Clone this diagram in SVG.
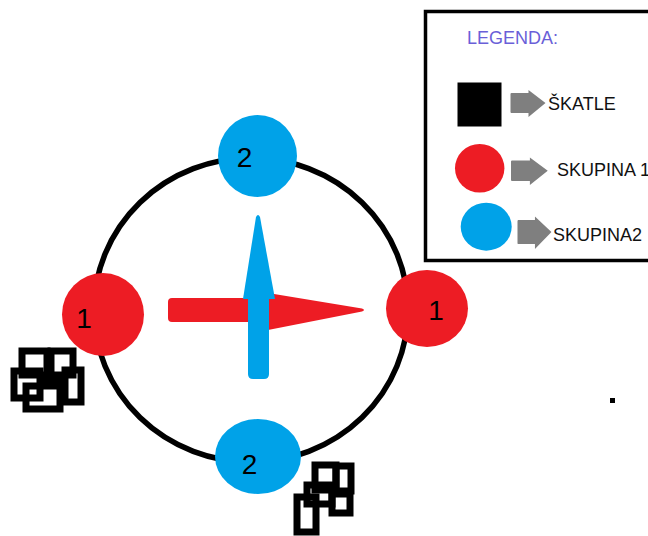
<svg xmlns="http://www.w3.org/2000/svg" width="648" height="536" viewBox="0 0 648 536">
<style>
.red{fill:#ed1c24}
.blue{fill:#00a2e8}
.num{font-family:"Liberation Sans",Arial,sans-serif;font-size:28px;fill:#000;text-anchor:middle}
.lbl{font-family:"Liberation Sans",Arial,sans-serif;font-size:18px;fill:#111}
.box{fill:none;stroke:#000;stroke-width:7}
.garrow{fill:#7f7f7f}
</style>
<defs>
<path id="garr" d="M0,4 Q0,3 1,3 H18 V0 L35,13 L18,27 V23 H1 Q0,23 0,22 Z"/>
</defs>
<rect width="648" height="536" fill="#fff"/>

<g id="ring">
<ellipse cx="251" cy="310" rx="157" ry="152" fill="none" stroke="#000" stroke-width="5.5"/>
</g>

<g id="connectors">
<path class="red" d="M172,298 H272 V322 H172 Q168,322 168,318 V302 Q168,298 172,298 Z"/>
<path class="red" d="M268,293 L362,308.5 Q366,310 362,311.5 L268,330 Z"/>
<path class="blue" d="M248,296 H269 V374 Q269,379 264,379 H253 Q248,379 248,374 Z"/>
<path class="blue" d="M243,299 L256,217 Q258,213 260,217 L275,299 Z"/>
</g>

<g id="node-top">
<ellipse class="blue" cx="257.5" cy="156" rx="39.5" ry="41"/>
<text class="num" x="244.5" y="167">2</text>
</g>
<g id="node-left">
<ellipse class="red" cx="103" cy="314.5" rx="41" ry="41.5"/>
<text class="num" x="84" y="328">1</text>
</g>
<g id="node-right">
<ellipse class="red" cx="427" cy="308.5" rx="41" ry="38.5"/>
<text class="num" x="436" y="320">1</text>
</g>
<g id="node-bottom">
<ellipse class="blue" cx="258" cy="456.5" rx="43" ry="37.5"/>
<text class="num" x="249.5" y="474">2</text>
</g>

<g id="boxes-left">
<rect class="box" x="22" y="351" width="25" height="24"/>
<rect class="box" x="51" y="351" width="22" height="24"/>
<rect class="box" x="14" y="371" width="26" height="27"/>
<rect class="box" x="65" y="370" width="16" height="32"/>
<rect class="box" x="26" y="386" width="34" height="23"/>
<rect x="40" y="372" width="26" height="12" fill="#000"/>
</g>

<g id="boxes-right">
<rect class="box" x="315" y="465" width="21" height="25"/>
<rect class="box" x="336" y="466" width="15" height="25"/>
<rect class="box" x="332" y="494" width="18" height="19"/>
<rect class="box" x="297" y="497" width="19" height="35"/>
<rect class="box" x="307" y="485" width="25" height="19"/>
</g>

<g id="dot">
<rect x="610" y="398" width="5" height="5" fill="#000"/>
</g>

<g id="legend">
<rect x="425.5" y="11.5" width="240" height="249" fill="none" stroke="#000" stroke-width="3.5"/>
<text x="467" y="44" font-family="'Liberation Sans',Arial,sans-serif" font-size="18" fill="#6a5fd8">LEGENDA:</text>
<rect x="457.5" y="82.5" width="44" height="44" fill="#000"/>
<use href="#garr" class="garrow" transform="translate(510.5,90)"/>
<text class="lbl" x="548" y="110">ŠKATLE</text>
<ellipse class="red" cx="479.7" cy="168.3" rx="24.7" ry="24.3"/>
<use href="#garr" class="garrow" transform="translate(511,157.5) scale(1.05,1.02)"/>
<text class="lbl" x="557" y="176">SKUPINA 1</text>
<ellipse class="blue" cx="486.2" cy="226.7" rx="25.5" ry="24"/>
<use href="#garr" class="garrow" transform="translate(517.5,216.5) scale(0.97,1.2)"/>
<text class="lbl" x="553" y="241">SKUPINA2</text>
</g>
</svg>
